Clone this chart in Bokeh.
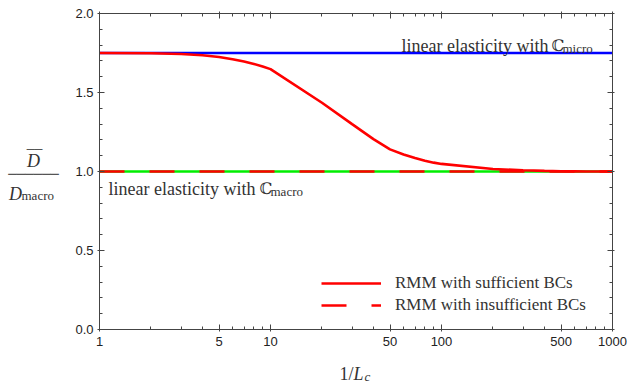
from bokeh.plotting import figure
from bokeh.models import (FixedTicker, LogAxis, LinearAxis, NumeralTickFormatter,
                          CustomJSTickFormatter, Label, Legend, LegendItem, Range1d)
from bokeh.embed import file_html
from bokeh.resources import INLINE

# ---- data ----
inv_Lc = [1, 2, 3, 4, 5, 6, 7, 8, 9, 10, 20, 30, 40, 50, 60, 70, 80, 90, 100,
          200, 300, 400, 500, 600, 700, 800, 900, 1000]
d_sufficient = [1.750, 1.748, 1.744, 1.736, 1.725, 1.711, 1.696, 1.681, 1.665, 1.648,
                1.435, 1.300, 1.205, 1.140, 1.108, 1.085, 1.068, 1.056, 1.048,
                1.016, 1.008, 1.004, 1.002, 1.001, 1.000, 1.000, 1.000, 1.000]
x_ends = [1, 1000]
d_micro = [1.75, 1.75]
d_macro = [1.0, 1.0]
d_insufficient = [1.0, 1.0]

x_ticks = [1, 5, 10, 50, 100, 500, 1000]
x_minor = [2, 3, 4, 6, 7, 8, 9, 20, 30, 40, 60, 70, 80, 90,
           200, 300, 400, 600, 700, 800, 900]
y_ticks = [0.0, 0.5, 1.0, 1.5, 2.0]
y_minor = [0.1, 0.2, 0.3, 0.4, 0.6, 0.7, 0.8, 0.9, 1.1, 1.2, 1.3, 1.4,
           1.6, 1.7, 1.8, 1.9]
x_lo, x_hi = 1, 1000
y_lo, y_hi = 0.0, 2.0

# ---- layout (canvas pixels) ----
W, H = 627, 383
FL, FR, FT, FB = 99, 612, 13, 329          # visible frame box
dec_px = (FR - FL) / 3.0                   # pixels per decade
unit_px = (FB - FT) / (y_hi - y_lo)        # pixels per y unit

SERIF = "Liberation Serif"
SANS = "Liberation Sans"
TXT = "#333333"
AX = "#444444"

p = figure(width=W, height=H, x_axis_type="log",
           x_range=Range1d(10 ** (-FL / dec_px), 10 ** (3 + (W - FR) / dec_px)),
           y_range=Range1d(y_lo - (H - FB) / unit_px, y_hi + FT / unit_px),
           output_backend="svg", toolbar_location=None,
           min_border=0, min_border_left=0, min_border_right=0,
           min_border_top=0, min_border_bottom=0)
p.outline_line_color = None
p.grid.visible = False
p.background_fill_color = "white"
p.border_fill_color = "white"

xt = FixedTicker(ticks=x_ticks, minor_ticks=x_minor)
yt = FixedTicker(ticks=y_ticks, minor_ticks=y_minor)
blank = CustomJSTickFormatter(code="return ''")


def style(ax):
    ax.axis_line_color = AX
    ax.axis_line_width = 1
    ax.major_tick_line_color = AX
    ax.minor_tick_line_color = AX
    ax.major_tick_in = 5
    ax.major_tick_out = 2
    ax.minor_tick_in = 3
    ax.minor_tick_out = 0
    ax.major_label_text_font = SANS
    ax.major_label_text_font_size = "13px"
    ax.major_label_text_color = "#222222"


p.xaxis.ticker = xt
p.xaxis.formatter = NumeralTickFormatter(format="0")
p.xaxis.fixed_location = y_lo
p.xaxis.bounds = (x_lo, x_hi)
p.yaxis.ticker = yt
p.yaxis.formatter = NumeralTickFormatter(format="0.0")
p.yaxis.fixed_location = x_lo
p.yaxis.bounds = (y_lo, y_hi)
for ax in p.xaxis + p.yaxis:
    style(ax)
p.xaxis.major_label_standoff = 5
p.yaxis.major_label_standoff = 4

top = LogAxis(ticker=xt, formatter=blank, major_label_standoff=0,
              fixed_location=y_hi, bounds=(x_lo, x_hi))
right = LinearAxis(ticker=yt, formatter=blank, major_label_standoff=0,
                   fixed_location=x_hi, bounds=(y_lo, y_hi))
style(top)
style(right)
p.add_layout(top, "above")
p.add_layout(right, "right")

# ---- lines ----
p.line(x_ends, d_micro, line_color="#0000ff", line_width=2.4)
p.line(x_ends, d_macro, line_color="#00ee00", line_width=2.6)
r_ins = p.line(x_ends, d_insufficient, line_color="#ff0000", line_width=2.6,
               line_dash="25 25")
r_suf = p.line(inv_Lc, d_sufficient, line_color="#ff0000", line_width=2.6)

legend = Legend(items=[LegendItem(label="RMM with sufficient BCs", renderers=[r_suf]),
                       LegendItem(label="RMM with insufficient BCs", renderers=[r_ins])],
                location=(321, H - FB + 14), glyph_width=60, glyph_height=20,
                label_standoff=14, spacing=2, padding=4, margin=0,
                label_text_font=SERIF, label_text_font_size="17px",
                label_text_color=TXT, background_fill_alpha=0,
                border_line_color=None)
p.add_layout(legend)


def lab(text, px, py, size, align="left", baseline="alphabetic", style_="normal",
        font=SERIF, color=TXT):
    p.add_layout(Label(x=px, y=H - py, x_units="screen", y_units="screen",
                       text=text, text_font=font, text_font_size=size,
                       text_align=align, text_baseline=baseline,
                       text_font_style=style_, text_color=color))


# annotations
lab("linear elasticity with", 548, 45, "18px", align="right")
lab("\u2102", 551, 45, "16px", font="DejaVu Serif")
lab("micro", 562, 48, "13px")
lab("linear elasticity with", 108, 188, "18px")
lab("\u2102", 259, 188, "16px", font="DejaVu Serif")
lab("macro", 270, 191, "13px")

# y axis label: fraction
lab("D", 33, 160, "18px", align="center", baseline="middle", style_="italic")
lab("\u2500\u2500", 34, 149, "13px", align="center", baseline="middle",
    font="DejaVu Sans Mono", color="#555555")
lab("\u2500\u2500\u2500\u2500\u2500\u2500", 33, 173, "14px", align="center",
    baseline="middle", font="DejaVu Sans Mono", color="#555555")
lab("D", 15, 193, "18px", align="center", style_="italic")
lab("macro", 21, 195, "13px")

# x axis label
lab("1/", 353, 373, "18px", align="right")
lab("L", 353, 373, "18px", style_="italic")
lab("c", 364, 376, "13px", style_="italic")

open("out.html", "w").write(file_html(p, INLINE))
